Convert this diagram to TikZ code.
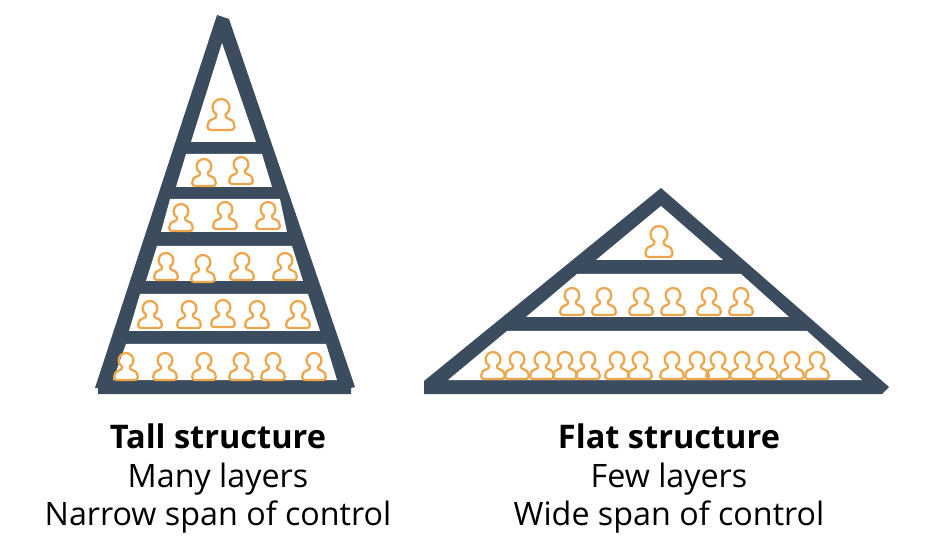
\documentclass[tikz,border=0pt]{standalone}
\usepackage{fontspec}
\setmainfont{Open Sans}
\definecolor{slate}{HTML}{3A4C5E}
\definecolor{amber}{HTML}{EDA64B}
\tikzset{
  person/.pic={
    \draw[amber,line width=1.7pt,line join=round]
      (-4.5,-15.5) .. controls (-4.5,-12.5) and (-5,-12) .. (-8,-11)
      .. controls (-12,-10) and (-13.5,-7) .. (-13.5,-4)
      -- (-13.5,-3) .. controls (-13.5,-1) and (-12,0) .. (-10,0)
      -- (10,0) .. controls (12,0) and (13.5,-1) .. (13.5,-3)
      -- (13.5,-4) .. controls (13.5,-7) and (12,-10) .. (8,-11)
      .. controls (5,-12) and (4.5,-12.5) .. (4.5,-15.5)
      .. controls (7.2,-17) and (8.5,-19.5) .. (8.5,-22.5)
      .. controls (8.5,-27.2) and (4.7,-31) .. (0,-31)
      .. controls (-4.7,-31) and (-8.5,-27.2) .. (-8.5,-22.5)
      .. controls (-8.5,-19.5) and (-7.2,-17) .. (-4.5,-15.5) -- cycle;
  },
  frame/.style={fill=slate,draw=none},
  hole/.style={fill=white,draw=none},
  head/.style={font=\fontsize{24.4}{29}\selectfont\bfseries,anchor=base},
  line/.style={font=\fontsize{24.2}{29}\selectfont,anchor=base}
}
\begin{document}
\begin{tikzpicture}[x=0.75pt,y=-0.75pt]
\useasboundingbox (0,0) rectangle (939,552);
% tall pyramid
\fill[frame] (217,15) -- (229,19) -- (355,387) -- (351,388) -- (351,394) -- (98,394) -- (98,388) -- (95,388) -- cycle;
\fill[hole] (222,43) -- (256,142) -- (191,142) -- cycle;
\fill[hole] (186,154) -- (262,154) -- (272,187) -- (176,187) -- cycle;
\fill[hole] (170,199) -- (280,199) -- (287,232) -- (161,232) -- cycle;
\fill[hole] (157,246) -- (292,246) -- (303,281) -- (146,281) -- cycle;
\fill[hole] (140,294) -- (308,294) -- (320,331) -- (129,331) -- cycle;
\fill[hole] (126,344) -- (326,344) -- (337,380) -- (113,380) -- cycle;
% flat pyramid
\fill[frame] (661,188) -- (889,387) -- (882,394) -- (424,394) -- (424,381) -- cycle;
\fill[hole] (661,206) -- (723,260) -- (596,260) -- cycle;
\fill[hole] (577,274) -- (741,274) -- (789,317) -- (526,317) -- cycle;
\fill[hole] (507,331) -- (807,331) -- (862,380) -- (448,380) -- cycle;
% people, tall
\pic at (221,130) {person};
\foreach \px/\py in {204/186,241/184,181/231,225/229,268/229,166/280,203/282,242/280,285/280,
  150/328,189/328,223/327,257/328,298/328,126/380,165/380,204/380,241/380,273/380,314/380}
  \pic[scale=.87] at (\px,\py) {person};
% people, flat
\pic at (659,257) {person};
\foreach \px in {572,604,641,673,709,741}
  \pic[scale=.87] at (\px,315) {person};
\foreach \px in {493,517,542,565,588,617,640,672,697,718,742,766,792,817}
  \pic[scale=.87] at (\px,379) {person};
% labels
\node[head] (t1) at (218,448) {Tall structure};
\node[line] (t2) at (218,487) {Many layers};
\node[line] (t3) at (218,525) {Narrow span of control};
\node[head] (f1) at (669,448) {Flat structure};
\node[line] (f2) at (669,487) {Few layers};
\node[line] (f3) at (669,525) {Wide span of control};
\end{tikzpicture}
\end{document}
